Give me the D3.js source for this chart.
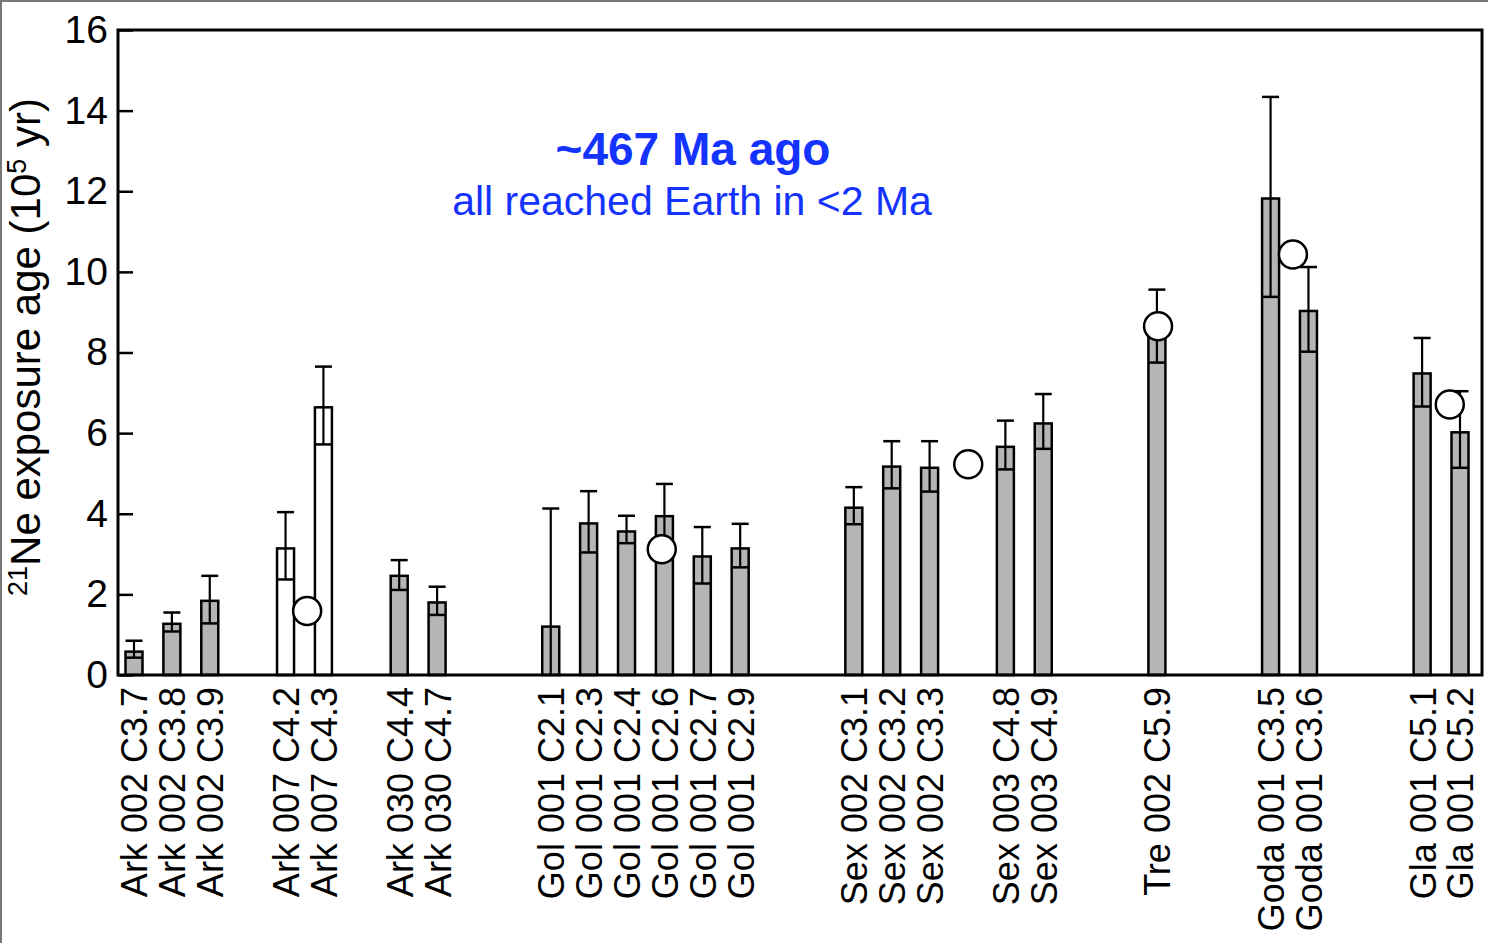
<!DOCTYPE html>
<html>
<head>
<meta charset="utf-8">
<script src="https://cdn.jsdelivr.net/npm/d3@7"></script>
<style>
  html, body { margin: 0; padding: 0; background: #fff; }
  svg { display: block; }
  text { font-family: "Liberation Sans", Arial, Helvetica, sans-serif; }
</style>
</head>
<body>
<svg id="chart" width="1488" height="943"></svg>
<script>
// Sample slots along the x axis; null marks an empty slot between meteorite groups
const categories = [
  "Ark 002 C3.7", "Ark 002 C3.8", "Ark 002 C3.9", null,
  "Ark 007 C4.2", "Ark 007 C4.3", null,
  "Ark 030 C4.4", "Ark 030 C4.7", null, null,
  "Gol 001 C2.1", "Gol 001 C2.3", "Gol 001 C2.4", "Gol 001 C2.6", "Gol 001 C2.7", "Gol 001 C2.9", null, null,
  "Sex 002 C3.1", "Sex 002 C3.2", "Sex 002 C3.3", null,
  "Sex 003 C4.8", "Sex 003 C4.9", null, null,
  "Tre 002 C5.9", null, null,
  "Goda 001 C3.5", "Goda 001 C3.6", null, null,
  "Gla 001 C5.1", "Gla 001 C5.2"
];

// 21Ne exposure ages (10^5 yr), one per labelled slot, in order
const exposureAge = [0.58, 1.27, 1.84, 3.14, 6.64, 2.46, 1.80,
  1.20, 3.76, 3.56, 3.94, 2.94, 3.14,
  4.15, 5.17, 5.14, 5.66, 6.24, 8.50, 11.82, 9.03, 7.48, 6.02];
// lower and upper limits of the uncertainty
const ageLow = [0.43, 1.08, 1.28, 2.37, 5.72, 2.11, 1.49,
  0.00, 3.04, 3.27, 3.30, 2.27, 2.67,
  3.74, 4.63, 4.55, 5.10, 5.61, 7.75, 9.38, 8.02, 6.66, 5.14];
const ageHigh = [0.85, 1.55, 2.46, 4.04, 7.65, 2.85, 2.19,
  4.13, 4.56, 3.95, 4.74, 3.67, 3.75,
  4.66, 5.80, 5.80, 6.31, 6.97, 9.56, 14.34, 10.12, 8.36, 7.04];
// open (unfilled) bars
const openBar = [false, false, false, true, true, false, false,
  false, false, false, false, false, false,
  false, false, false, false, false, false, false, false, false, false];

// Separate age estimates drawn as open circles (slot position, age)
const circleSlot = [4.57, 13.93, 22.02, 27.03, 30.59, 34.73];
const circleAge = [1.59, 3.12, 5.23, 8.65, 10.43, 6.71];

const yTicks = [0, 2, 4, 6, 8, 10, 12, 14, 16];

const svg = d3.select("#chart");
const W = 1488, H = 943;
const plot = { left: 118, right: 1482, top: 30, bottom: 675 };

const slotIdx = d3.range(categories.length);
const xPoint = d3.scalePoint().domain(slotIdx).range([134, 1460]);
const step = xPoint.step();
const xSlot = v => xPoint(0) + v * step;
const y = d3.scaleLinear().domain([0, 16]).range([plot.bottom, plot.top]);

const bars = slotIdx.filter(i => categories[i] !== null).map((slot, k) => ({
  slot, label: categories[slot], age: exposureAge[k], low: ageLow[k], high: ageHigh[k], open: openBar[k]
}));

const barW = 17;

// outer frame edges
svg.append("line").attr("x1", 0).attr("x2", W).attr("y1", 1).attr("y2", 1)
  .attr("stroke", "#777").attr("stroke-width", 2);
svg.append("line").attr("x1", 1).attr("x2", 1).attr("y1", 0).attr("y2", H)
  .attr("stroke", "#777").attr("stroke-width", 2);

// bars
const g = svg.append("g");
g.selectAll("rect.bar").data(bars).join("rect")
  .attr("class", "bar")
  .attr("x", d => xPoint(d.slot) - barW / 2)
  .attr("width", barW)
  .attr("y", d => y(d.age))
  .attr("height", d => y(0) - y(d.age))
  .attr("fill", d => d.open ? "#fff" : "#b5b5b5")
  .attr("stroke", "#000")
  .attr("stroke-width", 2.5);

// uncertainty: line at the lower limit across the bar, stem and cap up to the upper limit
g.selectAll("line.low").data(bars.filter(d => d.low > 0)).join("line")
  .attr("x1", d => xPoint(d.slot) - barW / 2).attr("x2", d => xPoint(d.slot) + barW / 2)
  .attr("y1", d => y(d.low)).attr("y2", d => y(d.low))
  .attr("stroke", "#000").attr("stroke-width", 2.5);
g.selectAll("line.stem").data(bars).join("line")
  .attr("x1", d => xPoint(d.slot)).attr("x2", d => xPoint(d.slot))
  .attr("y1", d => y(d.low)).attr("y2", d => y(d.high))
  .attr("stroke", "#000").attr("stroke-width", 2.2);
g.selectAll("line.cap").data(bars).join("line")
  .attr("x1", d => xPoint(d.slot) - barW / 2).attr("x2", d => xPoint(d.slot) + barW / 2)
  .attr("y1", d => y(d.high)).attr("y2", d => y(d.high))
  .attr("stroke", "#000").attr("stroke-width", 2.5);

// circles
g.selectAll("circle").data(circleSlot.map((s, i) => ({ s, v: circleAge[i] }))).join("circle")
  .attr("cx", d => xSlot(d.s)).attr("cy", d => y(d.v)).attr("r", 14)
  .attr("fill", "#fff").attr("stroke", "#000").attr("stroke-width", 2.5);

// y axis with inward ticks
const yAxis = svg.append("g").attr("transform", `translate(${plot.left},0)`)
  .call(d3.axisLeft(y).tickValues(yTicks).tickSize(-15).tickPadding(10).tickFormat(d3.format("d")));
yAxis.select(".domain").remove();
yAxis.selectAll(".tick line").attr("stroke", "#000").attr("stroke-width", 2.5);
yAxis.selectAll(".tick text").attr("font-size", 39).attr("fill", "#000")
  .attr("font-family", "'Liberation Sans', Arial, Helvetica, sans-serif");

// x axis: rotated sample labels
const xAxis = svg.append("g").attr("transform", `translate(0,${plot.bottom})`)
  .call(d3.axisBottom(xPoint).tickValues(bars.map(d => d.slot)).tickSize(0)
    .tickFormat(i => categories[i]));
xAxis.select(".domain").remove();
xAxis.selectAll(".tick text")
  .attr("font-size", 36).attr("fill", "#000")
  .attr("font-family", "'Liberation Sans', Arial, Helvetica, sans-serif")
  .attr("text-anchor", "end")
  .attr("transform", "rotate(-90)")
  .attr("x", -12).attr("y", 0).attr("dy", "0.36em");

// plot frame
svg.append("rect")
  .attr("x", plot.left).attr("y", plot.top)
  .attr("width", plot.right - plot.left).attr("height", plot.bottom - plot.top)
  .attr("fill", "none").attr("stroke", "#000").attr("stroke-width", 3);

// y axis title
const yt = svg.append("text")
  .attr("transform", "translate(32,347) rotate(-90)")
  .attr("text-anchor", "middle").attr("dy", "0.36em")
  .attr("font-size", 42).attr("fill", "#000");
yt.append("tspan").attr("font-size", 27).attr("dy", "-0.2em").text("21");
yt.append("tspan").attr("dy", "0.33em").text("Ne exposure age (10");
yt.append("tspan").attr("font-size", 27).attr("dy", "-0.55em").text("5");
yt.append("tspan").attr("dy", "0.35em").text(" yr)");

// annotation
svg.append("text").attr("x", 693).attr("y", 165).attr("text-anchor", "middle")
  .attr("font-size", 46).attr("font-weight", "bold").attr("fill", "#1433ff")
  .text("~467 Ma ago");
svg.append("text").attr("x", 692).attr("y", 215).attr("text-anchor", "middle")
  .attr("font-size", 41).attr("fill", "#1433ff")
  .text("all reached Earth in <2 Ma");
</script>
</body>
</html>
